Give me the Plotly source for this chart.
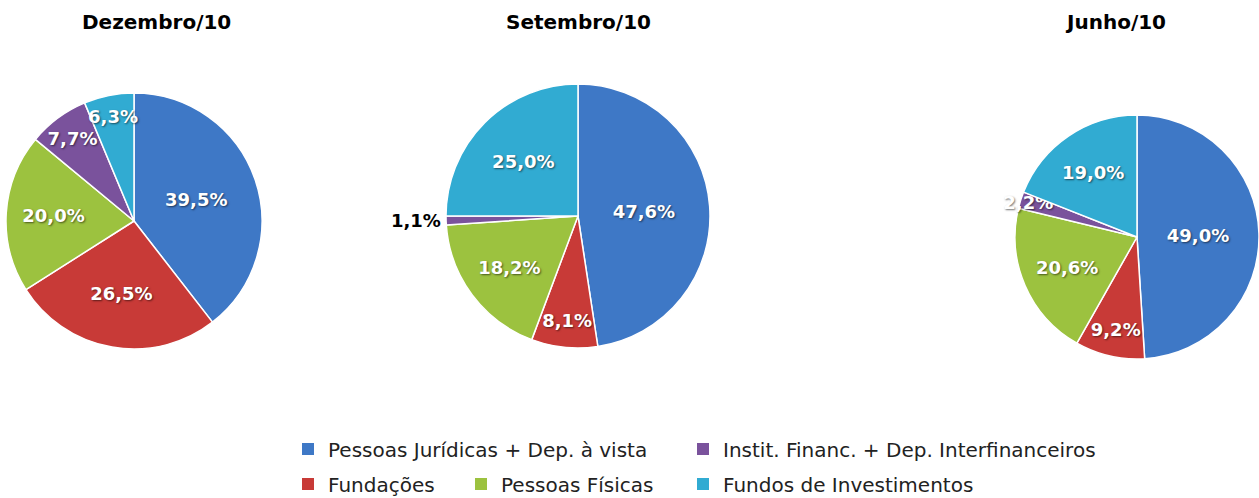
import plotly.graph_objects as go

categories = [
    "Pessoas Jurídicas + Dep. à vista",
    "Fundações",
    "Pessoas Físicas",
    "Instit. Financ. + Dep. Interfinanceiros",
    "Fundos de Investimentos",
]
colors = ["#3e78c6", "#c83a37", "#9cc23f", "#7a529c", "#31abd2"]

periods = ["Dezembro/10", "Setembro/10", "Junho/10"]
dez_values = [39.5, 26.5, 20.0, 7.7, 6.3]
set_values = [47.6, 8.1, 18.2, 1.1, 25.0]
jun_values = [49.0, 9.2, 20.6, 2.2, 19.0]

W, H = 1259, 498
FONT = "DejaVu Sans"

# pie geometry in pixels (center x, center y from top, radius)
pie_geom = [(134, 221, 128), (578, 216, 132), (1137, 237, 122)]
title_x = [156, 578, 1115]


def dom(cx, cy, r):
    return dict(
        x=[max(0, (cx - r) / W), min(1, (cx + r) / W)],
        y=[(H - cy - r) / H, (H - cy + r) / H],
    )


fig = go.Figure()
all_values = [dez_values, set_values, jun_values]
text_pos = [
    ["inside"] * 5,
    ["inside", "inside", "inside", "outside", "inside"],
    ["inside"] * 5,
]
for vals, geom, tp in zip(all_values, pie_geom, text_pos):
    fig.add_trace(
        go.Pie(
            labels=categories,
            values=vals,
            sort=False,
            direction="clockwise",
            rotation=0,
            domain=dom(*geom),
            marker=dict(colors=colors, line=dict(color="white", width=1.5)),
            texttemplate="%{value:.1f}%",
            textposition=tp,
            insidetextorientation="horizontal",
            insidetextfont=dict(family=FONT, size=18, color="white", weight="bold",
                                shadow="1px 1px 2px rgba(0,0,0,0.55)"),
            outsidetextfont=dict(family=FONT, size=18, color="black", weight="bold"),
            hoverinfo="label+percent",
            showlegend=False,
        )
    )

# legend entries (one legend per entry to mimic the original layout)
legend_pos = {
    0: (288, 449),
    3: (683, 449),
    1: (288, 484),
    2: (461, 484),
    4: (683, 484),
}
legend_names = ["legend", "legend2", "legend3", "legend4", "legend5"]
layout_legends = {}
for k, idx in enumerate([0, 3, 1, 2, 4]):
    lx, ly = legend_pos[idx]
    lname = legend_names[k]
    fig.add_trace(
        go.Scatter(
            x=[None], y=[None], mode="markers",
            marker=dict(symbol="square", size=12, color=colors[idx]),
            name=categories[idx], legend=lname, showlegend=True,
            hoverinfo="skip",
        )
    )
    layout_legends[lname] = dict(
        x=lx / W, y=1 - ly / H, xanchor="left", yanchor="middle",
        font=dict(family=FONT, size=20, color="#222222"),
        bgcolor="rgba(0,0,0,0)", borderwidth=0, itemwidth=30,
    )

annotations = [
    dict(text=p, x=tx / W, y=1 - 22 / H, xref="paper", yref="paper",
         xanchor="center", yanchor="middle", showarrow=False,
         font=dict(family=FONT, size=20, color="black", weight="bold"))
    for p, tx in zip(periods, title_x)
]

fig.update_layout(
    width=W, height=H,
    margin=dict(l=0, r=0, t=0, b=0, autoexpand=False),
    paper_bgcolor="white", plot_bgcolor="rgba(0,0,0,0)",
    separators=",.",
    uniformtext=dict(minsize=18, mode="show"),
    xaxis=dict(visible=False), yaxis=dict(visible=False),
    annotations=annotations,
    **layout_legends,
)

fig.write_html(
    "out.html",
    config={"displayModeBar": False},
    post_script="document.body.style.margin='0px';",
)
